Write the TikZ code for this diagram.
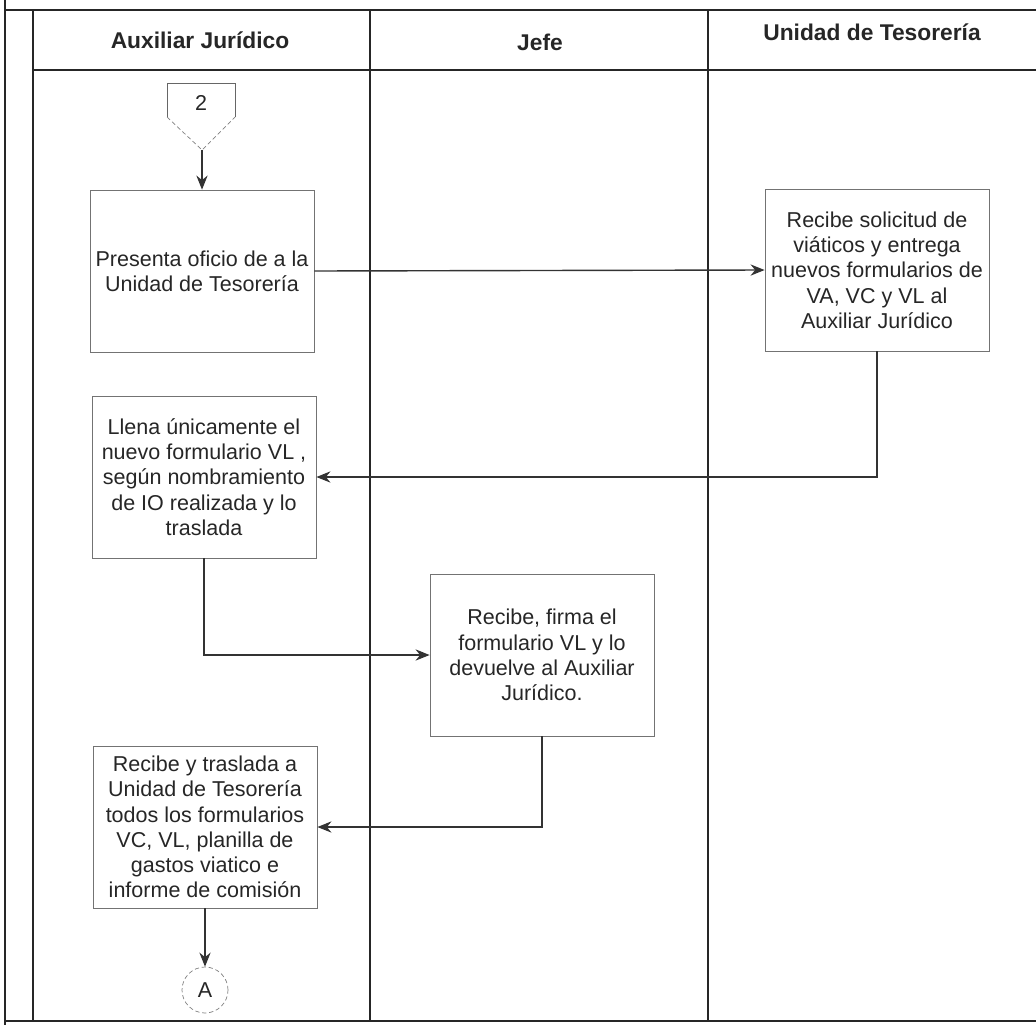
\documentclass[tikz,border=0pt]{standalone}
\usepackage{fontspec}
\setmainfont{Liberation Sans}
\usetikzlibrary{arrows.meta}

\begin{document}
\begin{tikzpicture}[x=0.025cm, y=-0.025cm,
    activity/.style={draw=black!55, line width=0.5pt, align=center,
        minimum width=5.6cm, minimum height=4.05cm, inner sep=2pt,
        font=\fontsize{15.3}{18}\selectfont, text=black!85},
    flow/.style={-{Stealth[length=10pt,width=8pt]}, line width=1pt, draw=black!80},
    lane/.style={line width=0.8pt, draw=black!85},
    lanehead/.style={font=\fontsize{16.2}{19}\selectfont\bfseries, text=black!85},
    offpage/.style={draw=black!50, line width=0.5pt, dash pattern=on 3pt off 2pt}
]
\useasboundingbox (0,0) rectangle (1036,1025);

% swimlanes
\draw[lane] (5,0) -- (5,1025);
\draw[lane] (5,10) -- (1036,10);
\draw[lane] (33,10) -- (33,1021);
\draw[lane] (33,70) -- (1036,70);
\draw[lane] (370,10) -- (370,1021);
\draw[lane] (708,10) -- (708,1021);
\draw[lane] (5,1021) -- (1036,1021);

\node[lanehead] (hAuxiliar) at (200,40) {Auxiliar Jurídico};
\node[lanehead] (hJefe) at (540,42) {Jefe};
\node[lanehead] (hTesoreria) at (872,32) {Unidad de Tesorería};

% off-page connector 2
\coordinate (c2tip) at (202,150);
\draw[black!60, line width=0.5pt] (167,117) -- (167,83) -- (235,83) -- (235,117);
\draw[offpage] (167,117) -- (c2tip) -- (235,117);
\node[font=\fontsize{15.3}{18}\selectfont, text=black!85] (con2) at (201,103) {2};

% activities
\node[activity] (presenta) at (202,271) {Presenta oficio de a la\\Unidad de Tesorería};
\node[activity] (recibeSol) at (877,270) {Recibe solicitud de\\viáticos y entrega\\nuevos formularios de\\VA, VC y VL al\\Auxiliar Jurídico};
\node[activity] (llena) at (204,477) {Llena únicamente el\\nuevo formulario VL~,\\según nombramiento\\de IO realizada y lo\\traslada};
\node[activity] (firma) at (542,655) {Recibe, firma el\\formulario VL y lo\\devuelve al Auxiliar\\Jurídico.};
\node[activity] (traslada) at (205,827) {Recibe y traslada a\\Unidad de Tesorería\\todos los formularios\\VC, VL, planilla de\\gastos viatico e\\informe de comisión};

\node[circle, offpage, minimum size=1.15cm, font=\fontsize{15.3}{18}\selectfont, text=black!85] (conA) at (205,990) {A};

% flows
\draw[flow] (c2tip) -- (presenta.north);
\draw[flow] (presenta.east) -- (recibeSol.west);
\draw[flow] (recibeSol.south) |- (llena.east);
\draw[flow] (llena.south) |- (firma.west);
\draw[flow] (firma.south) |- (traslada.east);
\draw[flow] (traslada.south) -- (conA.north);
\end{tikzpicture}
\end{document}
